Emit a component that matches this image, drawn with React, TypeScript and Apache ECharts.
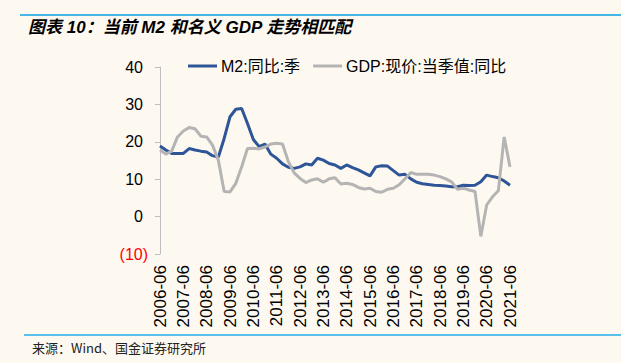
import React, { useEffect, useRef } from "react";
import * as echarts from "echarts";

const categories: string[] = [
  "2006-06", "2006-09", "2006-12", "2007-03",
  "2007-06", "2007-09", "2007-12", "2008-03",
  "2008-06", "2008-09", "2008-12", "2009-03",
  "2009-06", "2009-09", "2009-12", "2010-03",
  "2010-06", "2010-09", "2010-12", "2011-03",
  "2011-06", "2011-09", "2011-12", "2012-03",
  "2012-06", "2012-09", "2012-12", "2013-03",
  "2013-06", "2013-09", "2013-12", "2014-03",
  "2014-06", "2014-09", "2014-12", "2015-03",
  "2015-06", "2015-09", "2015-12", "2016-03",
  "2016-06", "2016-09", "2016-12", "2017-03",
  "2017-06", "2017-09", "2017-12", "2018-03",
  "2018-06", "2018-09", "2018-12", "2019-03",
  "2019-06", "2019-09", "2019-12", "2020-03",
  "2020-06", "2020-09", "2020-12", "2021-03",
  "2021-06",
];

const m2Values: number[] = [
  18.9, 17.8, 16.9, 16.9, 16.9, 18.2, 17.8, 17.5, 17.3, 16.3,
  15.9, 20.9, 26.7, 28.7, 28.9, 24.9, 20.6, 18.7, 19.4, 16.7,
  15.6, 14.1, 13.2, 12.9, 13.3, 14.1, 13.8, 15.6, 15.1, 14.2,
  13.8, 12.9, 13.8, 13.1, 12.5, 11.7, 10.9, 13.3, 13.6, 13.5,
  12.3, 11.1, 11.3, 10.1, 9.2, 8.8, 8.6, 8.4, 8.3, 8.2,
  8.0, 8.0, 8.4, 8.3, 8.4, 9.3, 11.1, 10.7, 10.4, 9.5,
  8.4,
];

const gdpValues: number[] = [
  17.8, 16.7, 17.5, 21.3, 22.9, 23.8, 23.5, 21.5, 21.3, 19.1,
  15.1, 6.7, 6.6, 8.9, 13.3, 18.2, 18.3, 18.1, 18.6, 19.4,
  19.6, 19.4, 14.7, 11.7, 10.2, 9.1, 9.8, 10.1, 9.2, 10.1,
  10.4, 8.7, 8.9, 8.6, 7.8, 7.4, 7.6, 6.7, 6.5, 7.3,
  7.6, 8.5, 10.1, 11.8, 11.3, 11.3, 11.3, 11.1, 10.7, 10.1,
  9.3, 7.3, 7.6, 7.1, 6.7, -5.3, 3.1, 5.3, 6.9, 21.3,
  13.3,
];

const seriesNames: string[] = ["M2:同比:季", "GDP:现价:当季值:同比"];
const titleText = "图表 10：当前 M2 和名义 GDP 走势相匹配";
const sourceText = "来源：Wind、国金证券研究所";

const FONT = '"Liberation Sans", "Noto Sans CJK SC", sans-serif';

export default function App() {
  const ref = useRef<HTMLDivElement>(null);

  useEffect(() => {
    if (!ref.current) return;
    const chart = echarts.init(ref.current, null, { renderer: "svg" });
    chart.setOption({
      animation: false,
      backgroundColor: "#FEF9F0",
      textStyle: { fontFamily: FONT },
      graphic: [
        {
          type: "line",
          shape: { x1: 20, y1: 15, x2: 621, y2: 15 },
          style: { stroke: "#45B6E6", lineWidth: 2 },
        },
        {
          type: "line",
          shape: { x1: 24, y1: 335, x2: 621, y2: 335 },
          style: { stroke: "#5BC0EB", lineWidth: 2 },
        },
        {
          type: "text",
          x: 28,
          y: 27,
          style: {
            text: titleText,
            font: 'italic bold 17px "Liberation Sans", "Noto Sans CJK SC", sans-serif',
            fill: "#000",
            textVerticalAlign: "middle",
          },
        },
        {
          type: "text",
          x: 32,
          y: 347,
          style: {
            text: sourceText,
            font: '13px "Noto Sans CJK SC", "Liberation Sans", sans-serif',
            fill: "#222",
            textVerticalAlign: "middle",
          },
        },
      ],
      legend: {
        top: 53,
        left: 183,
        icon: "rect",
        itemWidth: 29,
        itemHeight: 3,
        itemGap: 13,
        textStyle: { fontSize: 16, color: "#000", fontFamily: FONT, padding: [0, 0, 0, -1] },
        data: seriesNames,
      },
      grid: {
        left: 160,
        right: 111,
        top: 67,
        bottom: 109,
        containLabel: false,
      },
      xAxis: {
        type: "category",
        data: categories,
        boundaryGap: false,
        axisLine: { show: false },
        axisTick: { show: false },
        axisLabel: {
          interval: 3,
          rotate: 90,
          margin: 11,
          fontSize: 17,
          color: "#000",
          fontFamily: FONT,
        },
      },
      yAxis: {
        type: "value",
        min: -10,
        max: 40,
        interval: 10,
        splitLine: { show: false },
        axisLine: { show: true, lineStyle: { color: "#BFBFBF", width: 1 } },
        axisTick: { show: true, inside: false, length: 5, lineStyle: { color: "#BFBFBF" } },
        axisLabel: {
          margin: 12,
          fontSize: 16,
          fontFamily: FONT,
          formatter: (v: number) => (v < 0 ? `{neg|(${-v})}` : `{pos|${v}}`),
          rich: {
            neg: { color: "#FF0000", fontSize: 16, fontFamily: FONT },
            pos: { color: "#000", fontSize: 16, fontFamily: FONT, padding: [0, 5, 0, 0] },
          },
        },
      },
      series: [
        {
          name: seriesNames[0],
          type: "line",
          data: m2Values,
          symbol: "none",
          lineStyle: { color: "#2E5597", width: 3 },
          itemStyle: { color: "#2E5597" },
        },
        {
          name: seriesNames[1],
          type: "line",
          data: gdpValues,
          symbol: "none",
          lineStyle: { color: "#B4B4B4", width: 3 },
          itemStyle: { color: "#B4B4B4" },
        },
      ],
    });
    return () => chart.dispose();
  }, []);

  return (
    <div
      ref={ref}
      style={{ position: "absolute", left: 0, top: 0, width: 621, height: 363 }}
    />
  );
}
